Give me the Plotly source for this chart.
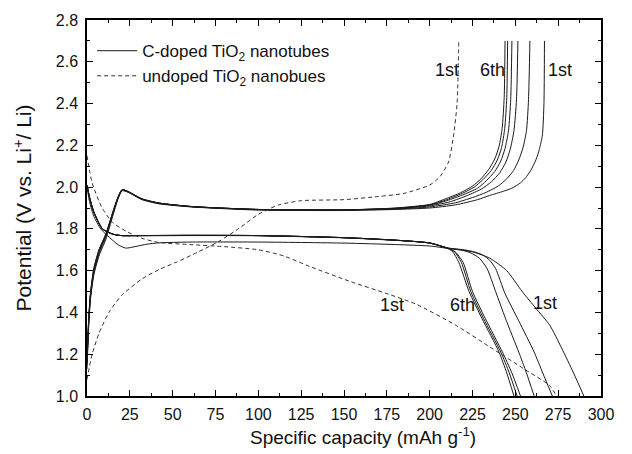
import plotly.graph_objects as go

# ---- C-doped TiO2 nanotubes: charge curves (cycles 1..6) ----
charge_c = {
    1: ([0, 1, 2, 4, 7, 11, 15, 18, 20.5, 24, 32, 42, 61, 100, 150, 180, 200, 215, 228, 235, 243, 248, 253, 256, 259, 262, 264, 265.8, 266.7, 267],
        [1.13, 1.33, 1.46, 1.58, 1.67, 1.75, 1.86, 1.94, 1.983, 1.975, 1.94, 1.92, 1.905, 1.89, 1.888, 1.893, 1.90, 1.915, 1.94, 1.96, 1.98, 1.995, 2.02, 2.045, 2.08, 2.13, 2.18, 2.25, 2.40, 2.70]),
    2: ([0, 1, 2, 4, 7, 11, 15, 18, 20.5, 24, 32, 42, 61, 100, 150, 180, 200, 215, 225, 233, 240, 245, 249, 252, 254.5, 256.5, 257.7, 258.5],
        [1.15, 1.35, 1.47, 1.59, 1.68, 1.76, 1.87, 1.945, 1.985, 1.977, 1.942, 1.922, 1.906, 1.892, 1.89, 1.895, 1.905, 1.925, 1.95, 1.975, 2.005, 2.04, 2.08, 2.13, 2.19, 2.27, 2.42, 2.70]),
    3: ([0, 1, 2, 4, 7, 11, 15, 18, 20.5, 24, 32, 42, 61, 100, 150, 180, 200, 212, 222, 230, 236, 241, 244.5, 247, 249.2, 250.7, 251.5],
        [1.16, 1.36, 1.48, 1.60, 1.69, 1.77, 1.875, 1.948, 1.987, 1.978, 1.943, 1.923, 1.907, 1.893, 1.891, 1.897, 1.91, 1.93, 1.96, 1.99, 2.025, 2.07, 2.12, 2.18, 2.27, 2.42, 2.70]),
    4: ([0, 1, 2, 4, 7, 11, 15, 18, 20.5, 24, 32, 42, 61, 100, 150, 180, 200, 210, 220, 228, 233, 238, 241.5, 244, 246, 247.3, 248],
        [1.16, 1.36, 1.48, 1.60, 1.69, 1.77, 1.875, 1.948, 1.987, 1.978, 1.943, 1.923, 1.907, 1.893, 1.891, 1.898, 1.913, 1.935, 1.965, 1.995, 2.03, 2.075, 2.125, 2.185, 2.27, 2.42, 2.70]),
    5: ([0, 1, 2, 4, 7, 11, 15, 18, 20.5, 24, 32, 42, 61, 100, 150, 180, 200, 210, 219, 226, 231, 236, 239.5, 242, 243.8, 245, 245.5],
        [1.17, 1.37, 1.49, 1.61, 1.70, 1.775, 1.878, 1.95, 1.988, 1.979, 1.944, 1.924, 1.907, 1.893, 1.891, 1.899, 1.915, 1.94, 1.97, 2.0, 2.035, 2.08, 2.13, 2.19, 2.28, 2.43, 2.70]),
    6: ([0, 1, 2, 4, 7, 11, 15, 18, 20.5, 24, 32, 42, 61, 100, 150, 180, 200, 209, 218, 225, 230, 234.5, 238, 240.5, 242.3, 243.5, 244],
        [1.17, 1.37, 1.49, 1.61, 1.70, 1.775, 1.878, 1.95, 1.988, 1.979, 1.944, 1.924, 1.907, 1.893, 1.891, 1.9, 1.917, 1.943, 1.973, 2.005, 2.04, 2.085, 2.135, 2.195, 2.28, 2.43, 2.70]),
}

# ---- C-doped TiO2 nanotubes: discharge curves (cycles 1..6) ----
discharge_c = {
    1: ([0, 1.5, 4, 8, 13, 18, 22.6, 28, 35, 42, 60, 100, 150, 180, 200, 211, 225, 235, 245, 254, 262, 270, 277, 284, 290],
        [2.00, 1.93, 1.86, 1.80, 1.76, 1.725, 1.708, 1.715, 1.727, 1.733, 1.737, 1.737, 1.732, 1.725, 1.718, 1.706, 1.69, 1.66, 1.60, 1.50, 1.42, 1.34, 1.23, 1.11, 1.0]),
    2: ([0, 1.5, 4, 9, 15, 20, 30, 60, 100, 150, 180, 200, 211, 220, 226, 231, 235, 238.5, 244, 252, 261, 266, 271.6],
        [2.01, 1.95, 1.88, 1.80, 1.775, 1.768, 1.767, 1.768, 1.767, 1.757, 1.745, 1.733, 1.708, 1.70, 1.69, 1.675, 1.65, 1.61, 1.49, 1.36, 1.21, 1.11, 1.0]),
    3: ([0, 1.5, 4, 9, 15, 20, 30, 60, 100, 150, 180, 200, 211, 218, 224, 229, 233.5, 238.5, 244.3, 252, 256.5, 261],
        [2.01, 1.95, 1.88, 1.80, 1.775, 1.768, 1.768, 1.769, 1.768, 1.758, 1.746, 1.733, 1.708, 1.70, 1.685, 1.66, 1.61, 1.50, 1.37, 1.21, 1.11, 1.0]),
    4: ([0, 1.5, 4, 9, 15, 20, 30, 60, 100, 150, 180, 200, 211, 215, 219.5, 225, 232.5, 242.5, 248, 253],
        [2.01, 1.95, 1.88, 1.80, 1.775, 1.768, 1.768, 1.769, 1.768, 1.758, 1.746, 1.732, 1.705, 1.69, 1.64, 1.50, 1.37, 1.21, 1.11, 1.0]),
    5: ([0, 1.5, 4, 9, 15, 20, 30, 60, 100, 150, 180, 200, 211, 214.5, 218.5, 224, 231.5, 241.5, 246.5, 251],
        [2.01, 1.95, 1.88, 1.80, 1.775, 1.768, 1.768, 1.769, 1.768, 1.758, 1.746, 1.732, 1.705, 1.69, 1.64, 1.50, 1.37, 1.21, 1.11, 1.0]),
    6: ([0, 1.5, 4, 9, 15, 20, 30, 60, 100, 150, 180, 200, 211, 213.5, 217, 223, 230.6, 240.5, 245, 249.2],
        [2.01, 1.95, 1.88, 1.80, 1.775, 1.768, 1.768, 1.769, 1.768, 1.758, 1.746, 1.732, 1.705, 1.69, 1.64, 1.50, 1.37, 1.21, 1.11, 1.0]),
}

# ---- undoped TiO2 nanotubes: 1st cycle ----
charge_u_x = [0, 3, 7, 12.8, 20, 32, 42, 52, 65, 77, 90, 100, 112, 125, 150, 170, 185, 200, 206, 211, 214, 216, 217]
charge_u_y = [1.08, 1.20, 1.30, 1.40, 1.48, 1.56, 1.605, 1.64, 1.69, 1.74, 1.81, 1.87, 1.915, 1.935, 1.94, 1.955, 1.97, 2.01, 2.05, 2.12, 2.25, 2.40, 2.70]
discharge_u_x = [0, 3, 8.8, 15, 22.6, 32, 42, 60, 80, 100, 115, 130, 153, 175, 192, 215, 236, 255, 270, 274]
discharge_u_y = [2.15, 2.02, 1.90, 1.83, 1.79, 1.755, 1.735, 1.725, 1.715, 1.70, 1.67, 1.62, 1.55, 1.49, 1.44, 1.34, 1.23, 1.13, 1.05, 1.0]

# ---- cycle labels: (x, y, text) ----
label_x = [210.4, 236.7, 276, 178.3, 219, 267.3]
label_y = [2.562, 2.562, 2.562, 1.438, 1.438, 1.444]
label_t = ["1st", "6th", "1st", "1st", "6th", "1st"]

x_ticks = list(range(0, 301, 25))
y_ticks = [1.0, 1.2, 1.4, 1.6, 1.8, 2.0, 2.2, 2.4, 2.6, 2.8]

FONT = "Liberation Sans, Arial, sans-serif"
SOLID = "#1a1a1a"
DASHC = "#333333"

fig = go.Figure()

first = True
for k in range(1, 7):
    for data in (charge_c, discharge_c):
        xs, ys = data[k]
        fig.add_trace(go.Scatter(
            x=xs, y=ys, mode="lines",
            line=dict(color=SOLID, width=1, shape="spline", smoothing=0.6),
            name="C-doped TiO<sub>2</sub> nanotubes",
            legendgroup="c", showlegend=first, hoverinfo="skip"))
        first = False

fig.add_trace(go.Scatter(
    x=charge_u_x, y=charge_u_y, mode="lines",
    line=dict(color=DASHC, width=1, dash="4px,3px", shape="spline", smoothing=0.6),
    name="undoped TiO<sub>2</sub> nanobues", legendgroup="u", showlegend=True, hoverinfo="skip"))
fig.add_trace(go.Scatter(
    x=discharge_u_x, y=discharge_u_y, mode="lines",
    line=dict(color=DASHC, width=1, dash="4px,3px", shape="spline", smoothing=0.6),
    name="undoped", legendgroup="u", showlegend=False, hoverinfo="skip"))

for lx, ly, lt in zip(label_x, label_y, label_t):
    fig.add_annotation(x=lx, y=ly, text=lt, showarrow=False,
                       font=dict(family=FONT, size=18, color="#111"))

# x-axis title (slightly right of centre in the reference)
fig.add_annotation(xref="paper", yref="paper", x=0.537, y=-0.106,
                   xanchor="center", yanchor="middle", showarrow=False,
                   text="Specific capacity (mAh g<sup>-1</sup>)",
                   font=dict(family=FONT, size=19, color="#111"))

axis_common = dict(
    showline=True, linecolor="black", linewidth=1.5, mirror="ticks",
    ticks="inside", ticklen=6, tickwidth=1.3, tickcolor="black",
    showgrid=False, zeroline=False,
    tickfont=dict(family=FONT, size=16, color="#111"),
)

fig.update_xaxes(
    range=[0, 300], tickvals=x_ticks, ticktext=[str(v) for v in x_ticks],
    minor=dict(ticks="inside", ticklen=3, tickwidth=1.2, tickcolor="black", dtick=12.5, tick0=0, showgrid=False),
    ticklabelstandoff=3,
    **axis_common)
fig.update_yaxes(
    range=[1.0, 2.8], tickvals=y_ticks, ticktext=[f"{v:.1f}" for v in y_ticks],
    minor=dict(ticks="inside", ticklen=3, tickwidth=1.2, tickcolor="black", dtick=0.1, tick0=1.0, showgrid=False),
    ticklabelstandoff=4,
    title=dict(text="Potential (V vs. Li<sup>+</sup>/ Li)", font=dict(family=FONT, size=21, color="#111"), standoff=18),
    **axis_common)

fig.update_layout(
    width=632, height=454,
    margin=dict(l=87, r=31, t=17, b=58),
    paper_bgcolor="white", plot_bgcolor="white",
    font=dict(family=FONT, color="#111"),
    legend=dict(x=0.01, y=0.965, xanchor="left", yanchor="top",
                bgcolor="rgba(0,0,0,0)", font=dict(family=FONT, size=17, color="#111"),
                tracegroupgap=0, itemwidth=40),
    showlegend=True,
)

fig.write_html("out.html")
